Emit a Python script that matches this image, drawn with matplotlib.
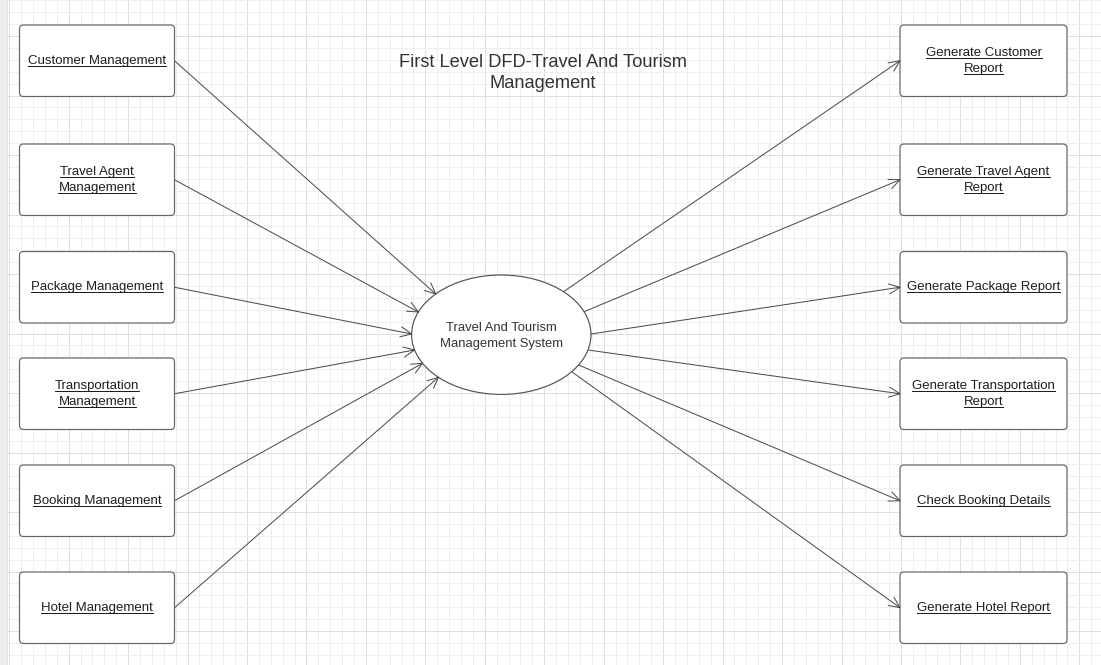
import numpy as np
import matplotlib
matplotlib.use("Agg")
import matplotlib.pyplot as plt
from matplotlib.patches import FancyBboxPatch, Ellipse, Rectangle

# ---- content ----
title_lines = ["First Level DFD-Travel And Tourism", "Management"]
center_lines = ["Travel And Tourism", "Management System"]
left_labels = [["Customer Management"], ["Travel Agent", "Management"],
               ["Package Management"], ["Transportation", "Management"],
               ["Booking Management"], ["Hotel Management"]]
right_labels = [["Generate Customer", "Report"], ["Generate Travel Agent", "Report"],
                ["Generate Package Report"], ["Generate Transportation", "Report"],
                ["Check Booking Details"], ["Generate Hotel Report"]]

# ---- layout (pixels) ----
W, H = 1101, 665
box_tops = [25, 144, 251.5, 358, 465, 572]
box_h = 71.5
left_x0, left_x1 = 19.5, 174.5
right_x0, right_x1 = 900, 1067
ecx, ecy, erx, ery = 501.3, 334.7, 89.7, 59.7
left_hit_y = [294, 312, 334, 350, 363.3, 377.3]     # where incoming arrows meet ellipse
right_start_y = [291.7, 311.7, 334, 350, 365, 371.7]  # where outgoing lines leave ellipse

fig = plt.figure(figsize=(W / 100, H / 100), dpi=100)
ax = fig.add_axes([0, 0, 1, 1])
ax.set_xlim(0, W)
ax.set_ylim(H, 0)
ax.axis("off")
fig.patch.set_facecolor("white")

px = 72 / 100  # points per pixel

# grid
minor_c, major_c = "#eeeeee", "#dedede"
sx, sy = 59.45, 59.5
gx0, gy0 = 247 - 4 * sx, 36 - sy
for k in range(-2, 100):
    x = gx0 + k * sx / 5
    if 6 < x < W:
        ax.axvline(x, color=major_c if k % 5 == 0 else minor_c, lw=1 * px, zorder=0)
for k in range(-2, 100):
    y = gy0 + k * sy / 5
    if 0 <= y < H:
        ax.axhline(y, color=major_c if k % 5 == 0 else minor_c, lw=1 * px, zorder=0)

# left grey strip
ax.add_patch(Rectangle((0, 0), 6.5, H, facecolor="#ececec", edgecolor="none", zorder=1))
ax.plot([6.5, 6.5], [0, H], color="#e2e2e2", lw=1 * px, zorder=1)

font = ["Liberation Sans", "DejaVu Sans"]
label_fs = 13.3 * px
underlined = []

def add_box(x0, x1, top, lines):
    ax.add_patch(FancyBboxPatch((x0, top), x1 - x0, box_h,
                                boxstyle="round,pad=0,rounding_size=4",
                                facecolor="white", edgecolor="#666666",
                                lw=1.2 * px, zorder=3))
    cx = (x0 + x1) / 2
    cy = top + box_h / 2
    n = len(lines)
    for i, s in enumerate(lines):
        b = cy + 3 + (i - (n - 1) / 2) * 16
        t = ax.text(cx, b, s, ha="center", va="baseline", fontsize=label_fs,
                    color="#1e1e1e", family=font, zorder=5)
        underlined.append((t, b))

for top, lab in zip(box_tops, left_labels):
    add_box(left_x0, left_x1, top, lab)
for top, lab in zip(box_tops, right_labels):
    add_box(right_x0, right_x1, top, lab)

# ellipse
ax.add_patch(Ellipse((ecx, ecy), 2 * erx, 2 * ery, facecolor="white",
                     edgecolor="#555555", lw=1.2 * px, zorder=3))
for i, s in enumerate(center_lines):
    ax.text(ecx, ecy + 4.3 + (i - 0.5) * 16, s, ha="center", va="baseline",
            fontsize=13 * px, color="#333333", family=font, zorder=5)

# title
for i, s in enumerate(title_lines):
    ax.text(543, 67.3 + i * 21, s, ha="center", va="baseline",
            fontsize=18.25 * px, color="#333333", family=font, zorder=5)

def ell_x(y, side):
    d = (y - ecy) / ery
    return ecx + side * erx * np.sqrt(max(0.0, 1 - d * d))

line_c = "#4a4a4a"
def arrow(p0, p1):
    p0 = np.array(p0, float); p1 = np.array(p1, float)
    ax.plot([p0[0], p1[0]], [p0[1], p1[1]], color=line_c, lw=1 * px,
            zorder=2, solid_capstyle="round")
    d = p1 - p0
    d /= np.hypot(*d)
    nrm = np.array([-d[1], d[0]])
    L, hw = 11, 5
    for s in (1, -1):
        q = p1 - d * L + nrm * hw * s
        ax.plot([q[0], p1[0]], [q[1], p1[1]], color=line_c, lw=1 * px,
                zorder=4, solid_capstyle="round")

for top, hy in zip(box_tops, left_hit_y):
    cy = top + box_h / 2
    arrow((left_x1, cy), (ell_x(hy, -1), hy))
for top, sy_ in zip(box_tops, right_start_y):
    cy = top + box_h / 2
    arrow((ell_x(sy_, 1), sy_), (right_x0, cy))

# underlines
fig.canvas.draw()
r = fig.canvas.get_renderer()
inv = ax.transData.inverted()
for t, b in underlined:
    bb = t.get_window_extent(r)
    (x0, _), (x1, _) = inv.transform([[bb.x0, bb.y0], [bb.x1, bb.y1]])
    ax.plot([x0, x1], [b + 1.8, b + 1.8], color="#1e1e1e", lw=1 * px, zorder=5)

fig.savefig("out.png", dpi=100, facecolor="white")
